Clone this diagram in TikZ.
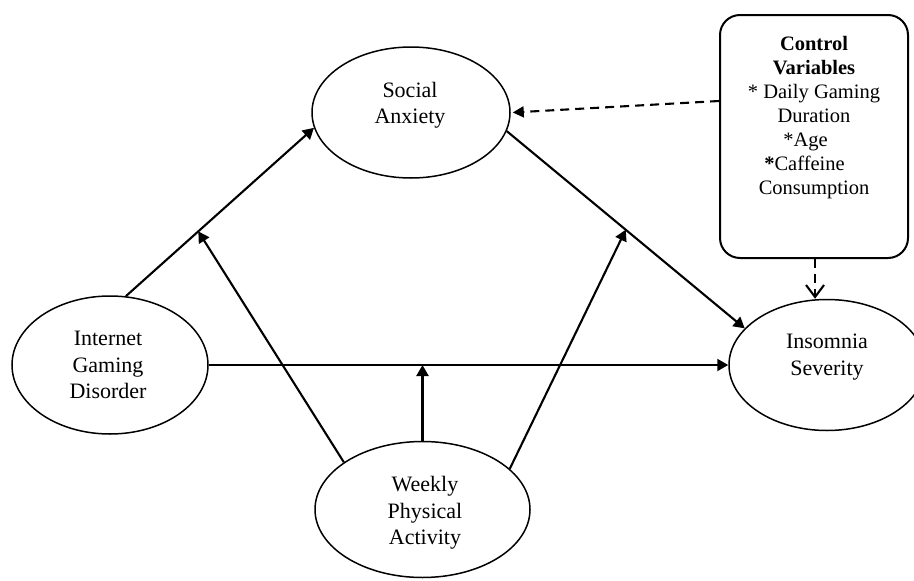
\documentclass[tikz,border=0pt]{standalone}
\usepackage{fontspec}
\setmainfont{Liberation Serif}
\usetikzlibrary{shapes.geometric,arrows.meta,calc}
\begin{document}
\begin{tikzpicture}[x=1pt,y=-1pt,
  ell/.style={draw,ellipse,line width=1.5pt,inner sep=0pt},
  lbl/.style={align=center,font=\fontsize{22}{26.5}\selectfont,inner sep=0pt},
  conn/.style={line width=2.1pt,-{Triangle[length=11pt,width=12pt]}},
  dconn/.style={line width=2.1pt,dash pattern=on 9pt off 6pt}]
\useasboundingbox (0,0) rectangle (914,581);
% ellipses
\node[ell,minimum width=198pt,minimum height=131pt] (sa) at (411,112.5) {};
\node[ell,minimum width=196pt,minimum height=138pt] (igd) at (110,365) {};
\node[ell,minimum width=215pt,minimum height=136pt] (wpa) at (422.5,509.5) {};
\node[ell,minimum width=196pt,minimum height=131pt] (ins) at (827,365) {};
% labels
\node[lbl] (satxt) at (410,105) {Social\\Anxiety};
\node[lbl] (igdtxt) at (108,365) {Internet\\Gaming\\Disorder};
\node[lbl] (wpatxt) at (425,513) {Weekly\\Physical\\Activity};
\node[lbl] (instxt) at (827,357) {Insomnia\\Severity};
% control box
\node[draw,rounded corners=20pt,line width=2pt,minimum width=188pt,minimum height=243pt,inner sep=0pt] (ctrl) at (814,136.5) {};
\node[lbl,font=\fontsize{20.5}{24}\selectfont] (ctrltxt) at (814,117.5)
  {\textbf{Control}\\\textbf{Variables}\\* Daily Gaming\\Duration\\*Age\makebox[17pt]{}\\\textbf{*}Caffeine\makebox[19pt]{}\\Consumption};
% connectors
\draw[conn] (igd.77.6) -- (sa.189.4);
\coordinate (m1) at ($(igd.77.6)!0.385!(sa.189.4)$);
\draw[conn] (wpa.149) -- (m1);
\draw[conn] (sa.349.5) -- (ins.156.7);
\coordinate (m2) at ($(sa.349.5)!0.5!(ins.156.7)$);
\draw[conn] (wpa.25) -- (m2);
\draw[conn] (igd.east) -- (ins.west);
\draw[conn] (wpa.north) -- (wpa.north |- igd.east);
% dashed connectors
\draw[dconn,-{Triangle[length=11pt,width=11pt]}] ([yshift=35.5pt]ctrl.west) -- ([xshift=2pt]sa.east);
\draw[dconn,-{Straight Barb[length=12pt,width=18pt]}] ([xshift=1pt]ctrl.south) -- ([xshift=1pt]ctrl.south |- ins.north);
\end{tikzpicture}
\end{document}
